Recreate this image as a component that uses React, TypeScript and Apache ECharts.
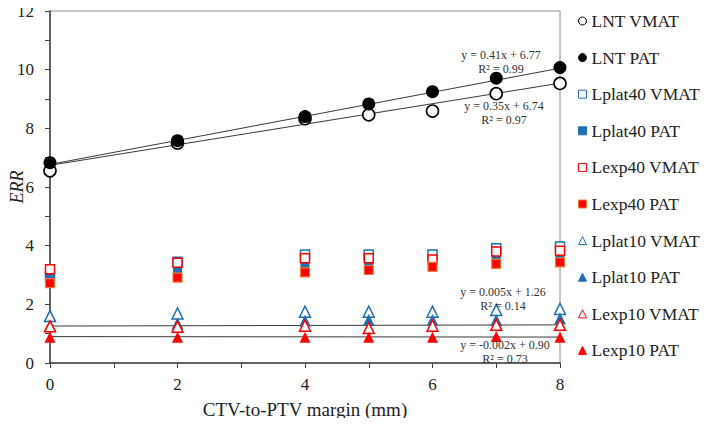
import React, { useEffect, useRef } from "react";
import * as echarts from "echarts";

const margins = [0, 2, 4, 5, 6, 7, 8];
const lntVmat = [6.55, 7.5, 8.33, 8.46, 8.59, 9.18, 9.53];
const lntPat = [6.83, 7.58, 8.4, 8.83, 9.25, 9.71, 10.07];
const lplat40Vmat = [2.95, 3.45, 3.7, 3.7, 3.7, 3.91, 3.97];
const lplat40Pat = [2.91, 3.09, 3.31, 3.42, 3.51, 3.65, 3.72];
const lexp40Vmat = [3.2, 3.42, 3.57, 3.57, 3.53, 3.8, 3.83];
const lexp40Pat = [2.72, 2.91, 3.09, 3.17, 3.28, 3.38, 3.43];
const lplat10Vmat = [1.6, 1.69, 1.75, 1.75, 1.75, 1.81, 1.84];
const lplat10Pat = [1.28, 1.35, 1.44, 1.47, 1.47, 1.47, 1.52];
const lexp10Vmat = [1.25, 1.24, 1.27, 1.19, 1.27, 1.3, 1.3];
const lexp10Pat = [0.88, 0.88, 0.88, 0.88, 0.88, 0.9, 0.88];

const trendX = [0, 8];
const trendLntPat = [6.77, 10.05];
const trendLntVmat = [6.74, 9.54];
const trendUpper = [1.26, 1.3];
const trendLower = [0.9, 0.884];

const trendLabels = [
  { text: "y = 0.41x + 6.77\nR² = 0.99", x: 501, y: 62 },
  { text: "y = 0.35x + 6.74\nR² = 0.97", x: 504, y: 113 },
  { text: "y = 0.005x + 1.26\nR² = 0.14", x: 503, y: 299 },
  { text: "y = -0.002x + 0.90\nR² = 0.73", x: 505, y: 352 },
];

const FONT = "Liberation Serif, DejaVu Serif, serif";
const BLUE = "#1f6fb4";
const RED = "#ff0000";

function pts(vals: number[]) {
  return margins.map((m, i) => [m, vals[i]]);
}
function line(vals: number[]) {
  return trendX.map((m, i) => [m, vals[i]]);
}

export default function App() {
  const ref = useRef<HTMLDivElement>(null);
  useEffect(() => {
    if (!ref.current) return;
    const chart = echarts.init(ref.current, undefined, { renderer: "svg" });
    const scatter = (
      name: string,
      vals: number[],
      symbol: string,
      size: number,
      fill: string,
      border: string,
      bw: number
    ) => ({
      name,
      type: "scatter",
      data: pts(vals),
      symbol,
      symbolSize: size,
      z: 3,
      itemStyle: { color: fill, borderColor: border, borderWidth: bw, opacity: 1 },
    });
    const trend = (vals: number[]) => ({
      type: "line",
      data: line(vals),
      symbol: "none",
      z: 2,
      lineStyle: { color: "#3a3a3a", width: 1 },
      silent: true,
    });
    const tri = "triangle";
    const names = [
      "LNT VMAT",
      "LNT PAT",
      "Lplat40 VMAT",
      "Lplat40 PAT",
      "Lexp40 VMAT",
      "Lexp40 PAT",
      "Lplat10 VMAT",
      "Lplat10 PAT",
      "Lexp10 VMAT",
      "Lexp10 PAT",
    ];
    chart.setOption({
      animation: false,
      backgroundColor: "#fff",
      grid: {
        left: 50,
        top: 11,
        right: 154,
        bottom: 63,
        show: true,
        borderColor: "#8c8c8c",
        borderWidth: 1,
        containLabel: false,
        outerBoundsMode: "none",
      },
      legend: {
        orient: "vertical",
        left: 573,
        top: 7,
        data: names,
        itemWidth: 8,
        itemHeight: 8,
        itemGap: 18.6,
        itemStyle: { borderWidth: 1 },
        textStyle: { fontFamily: FONT, fontSize: 17.5, color: "#222", lineHeight: 17.5 },
        selectedMode: false,
      },
      xAxis: {
        type: "value",
        min: 0,
        max: 8,
        interval: 1,
        name: "CTV-to-PTV margin (mm)",
        nameLocation: "middle",
        nameGap: 37,
        nameMoveOverlap: false,
        nameTextStyle: { fontFamily: FONT, fontSize: 19, color: "#222" },
        axisLine: { show: true, lineStyle: { color: "#404040", width: 1.5 } },
        axisTick: { show: true, length: 5, lineStyle: { color: "#404040" } },
        axisLabel: {
          fontFamily: FONT,
          fontSize: 17,
          color: "#222",
          margin: 13,
          formatter: (v: number) => (v % 2 === 0 ? String(v) : ""),
        },
        splitLine: { show: false },
      },
      yAxis: {
        type: "value",
        min: 0,
        max: 12,
        interval: 1,
        name: "ERR",
        nameLocation: "middle",
        nameGap: 24,
        nameMoveOverlap: false,
        nameTextStyle: { fontFamily: FONT, fontSize: 18, color: "#222", fontStyle: "italic" },
        axisLine: { show: true, lineStyle: { color: "#404040", width: 1.5 } },
        axisTick: { show: true, length: 5, lineStyle: { color: "#404040" } },
        axisLabel: {
          fontFamily: FONT,
          fontSize: 17,
          color: "#222",
          margin: 16,
          formatter: (v: number) => (v % 2 === 0 ? String(v) : ""),
        },
        splitLine: { show: false },
      },
      graphic: trendLabels.map((t) => ({
        type: "text",
        x: t.x,
        y: t.y,
        style: {
          text: t.text,
          fontFamily: FONT,
          fontSize: 12,
          lineHeight: 13.5,
          fill: "#333",
          align: "center",
          verticalAlign: "middle",
        },
        z: 10,
      })),
      series: [
        trend(trendLntVmat),
        trend(trendLntPat),
        trend(trendUpper),
        trend(trendLower),
        scatter(names[0], lntVmat, "circle", 12, "#fff", "#000", 1.6),
        scatter(names[1], lntPat, "circle", 13, "#000", "#000", 0),
        scatter(names[2], lplat40Vmat, "rect", 9, "#fff", BLUE, 1.5),
        scatter(names[3], lplat40Pat, "rect", 9, BLUE, BLUE, 0),
        scatter(names[4], lexp40Vmat, "rect", 9, "#fff", RED, 1.5),
        scatter(names[5], lexp40Pat, "rect", 9, RED, "#ed7d31", 1.2),
        scatter(names[6], lplat10Vmat, tri, 11, "#fff", BLUE, 1.5),
        scatter(names[7], lplat10Pat, tri, 12, BLUE, BLUE, 0),
        scatter(names[8], lexp10Vmat, tri, 11, "#fff", RED, 1.5),
        scatter(names[9], lexp10Pat, tri, 11, RED, RED, 0),
      ],
    });
    return () => chart.dispose();
  }, []);
  return <div ref={ref} style={{ width: 714, height: 426, margin: -8 }} />;
}
